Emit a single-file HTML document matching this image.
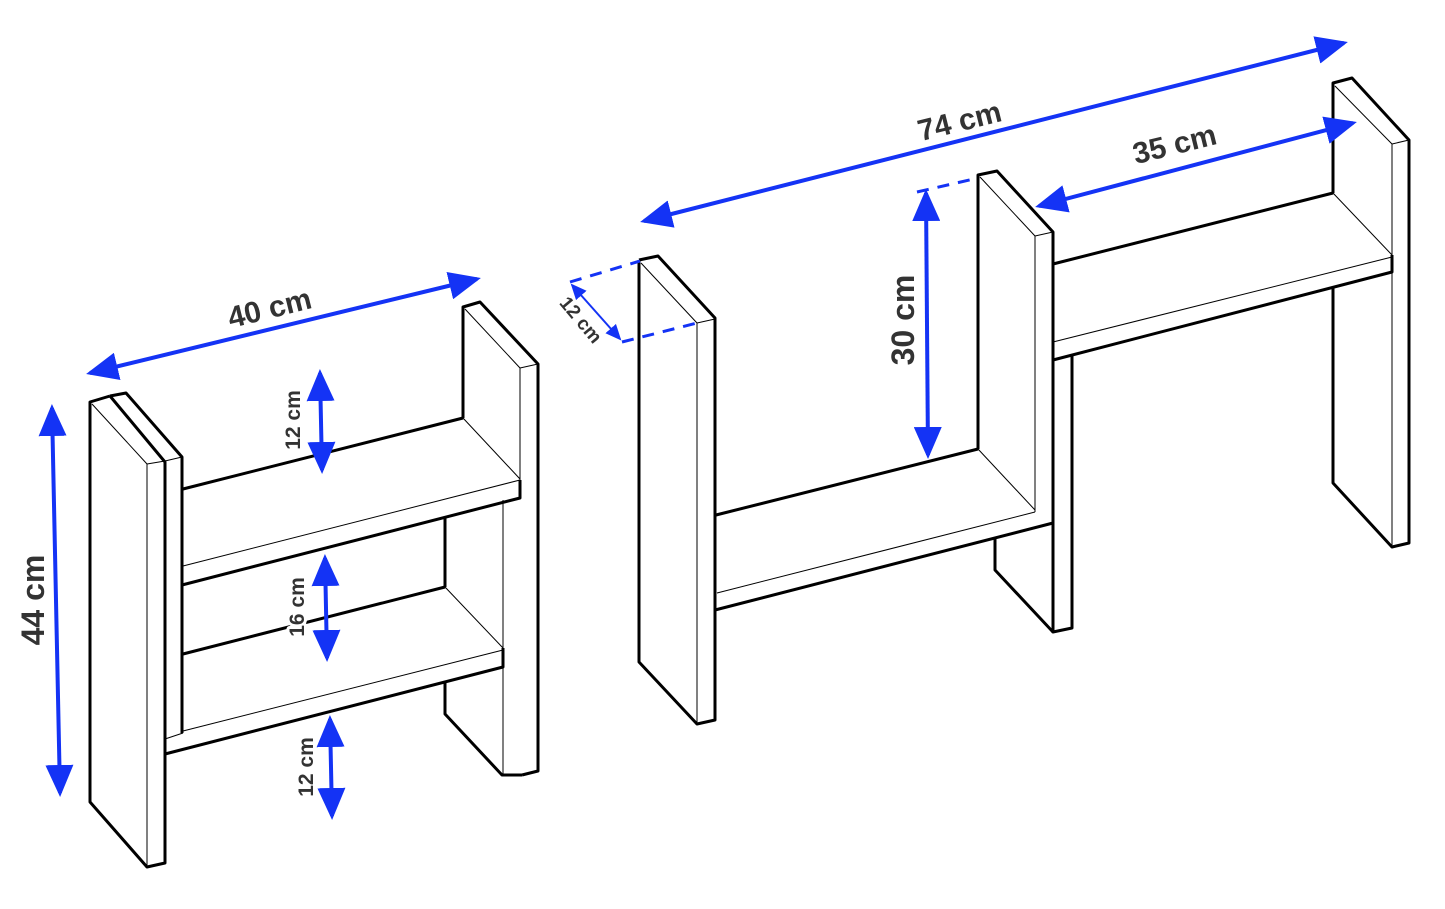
<!DOCTYPE html>
<html><head><meta charset="utf-8"><style>
html,body{margin:0;padding:0;background:#fff;width:1445px;height:909px;overflow:hidden}
svg{display:block}
text{font-family:"Liberation Sans",sans-serif;font-weight:bold;fill:#333}
text.w{stroke:#fff;stroke-width:6px;paint-order:stroke;stroke-linejoin:round}
</style></head><body>
<svg width="1445" height="909" viewBox="0 0 1445 909" xmlns="http://www.w3.org/2000/svg">
<defs>
<marker id="ah" markerWidth="8" markerHeight="7" refX="7" refY="3.5" orient="auto-start-reverse" markerUnits="strokeWidth">
<path d="M0,0 L8,3.5 L0,7 z" fill="#1433f5"/></marker>
</defs>
<g fill="none" stroke="#000" stroke-linejoin="round">
<g stroke-width="3">
<polyline points="463,418 463,307 480,302 538,364 538,771 522,775"/>
<polyline points="445,517 445,587"/>
<polyline points="445,682 445,714 502,775 522,775"/>
<polyline points="110,396 126,393 182,457 182,733"/>
<polyline points="110,396 90,402 90,802 147,867 165,863 165,462 110,396"/>
<line x1="183" y1="489" x2="463" y2="418"/>
<polyline points="182,585 520,498 520,480"/>
<line x1="183" y1="654" x2="445" y2="587"/>
<polyline points="165,754 503,667 503,648"/>
</g>
<g stroke-width="1">
<line x1="92" y1="404" x2="147" y2="464"/>
<line x1="147" y1="464" x2="165" y2="461"/>
<line x1="147" y1="464" x2="147" y2="867"/>
<line x1="165" y1="461" x2="182" y2="457"/>
<line x1="465" y1="309" x2="520" y2="368"/>
<line x1="520" y1="368" x2="538" y2="364"/>
<line x1="520" y1="368" x2="520" y2="480"/>
<line x1="463" y1="418" x2="520" y2="479"/>
<line x1="183" y1="566" x2="520" y2="480"/>
<line x1="503" y1="500" x2="503" y2="775"/>
<line x1="445" y1="587" x2="503" y2="648"/>
<line x1="183" y1="731" x2="503" y2="650"/>
<line x1="165" y1="739" x2="183" y2="733"/>
</g>
<g stroke-width="3">
<polyline points="639,260 658,256 715,318 715,720 697,724 639,662 639,260"/>
<line x1="716" y1="515" x2="978" y2="449"/>
<polyline points="715,610 1053,523 1053,508"/>
<polyline points="978,449 978,175 997,171 1053,232 1053,632 1072,628 1072,355"/>
<polyline points="995,538 995,570 1053,632"/>
<line x1="1053" y1="264" x2="1333" y2="193"/>
<polyline points="1053,360 1392,272 1392,255"/>
<polyline points="1333,193 1333,83 1352,78 1409,140 1409,543 1392,547 1333,483 1333,288"/>
</g>
<g stroke-width="1">
<line x1="641" y1="263" x2="697" y2="323"/>
<line x1="697" y1="323" x2="715" y2="319"/>
<line x1="697" y1="323" x2="697" y2="724"/>
<line x1="717" y1="593" x2="1035" y2="512"/>
<line x1="978" y1="449" x2="1035" y2="510"/>
<line x1="980" y1="177" x2="1035" y2="236"/>
<line x1="1035" y1="236" x2="1053" y2="232"/>
<line x1="1035" y1="236" x2="1035" y2="512"/>
<line x1="1053" y1="523" x2="1053" y2="632"/>
<line x1="1053" y1="342" x2="1392" y2="257"/>
<line x1="1333" y1="193" x2="1392" y2="255"/>
<line x1="1335" y1="86" x2="1392" y2="144"/>
<line x1="1392" y1="144" x2="1409" y2="140"/>
<line x1="1392" y1="144" x2="1392" y2="547"/>
</g>
</g>
<text class="w" font-size="21" text-anchor="middle" transform="translate(300,420) rotate(-90)">12 cm</text>
<text class="w" font-size="21" text-anchor="middle" transform="translate(304,607) rotate(-90)">16 cm</text>
<text class="w" font-size="21" text-anchor="middle" transform="translate(313,767) rotate(-90)">12 cm</text>
<g stroke="#1433f5" fill="none">
<line x1="90" y1="373" x2="477" y2="279" stroke-width="4" marker-start="url(#ah)" marker-end="url(#ah)"/>
<line x1="52" y1="408" x2="60" y2="793" stroke-width="4" marker-start="url(#ah)" marker-end="url(#ah)"/>
<line x1="320" y1="373" x2="322" y2="470" stroke-width="4" marker-start="url(#ah)" marker-end="url(#ah)"/>
<line x1="325" y1="558" x2="327" y2="658" stroke-width="4" marker-start="url(#ah)" marker-end="url(#ah)"/>
<line x1="330" y1="719" x2="332" y2="816" stroke-width="4" marker-start="url(#ah)" marker-end="url(#ah)"/>
<line x1="644" y1="221" x2="1344" y2="43" stroke-width="4" marker-start="url(#ah)" marker-end="url(#ah)"/>
<line x1="1039" y1="206" x2="1353" y2="123" stroke-width="4" marker-start="url(#ah)" marker-end="url(#ah)"/>
<line x1="926" y1="193" x2="928" y2="455" stroke-width="4" marker-start="url(#ah)" marker-end="url(#ah)"/>
<line x1="572" y1="285" x2="620" y2="339" stroke-width="2" marker-start="url(#ah)" marker-end="url(#ah)"/>
<g stroke-width="3" stroke-dasharray="12,9">
<line x1="570" y1="282" x2="640" y2="261"/>
<line x1="622" y1="342" x2="697" y2="323"/>
<line x1="917" y1="192" x2="978" y2="178"/>
</g>
</g>
<text font-size="30" text-anchor="middle" transform="translate(272,318) rotate(-14)">40 cm</text>
<text font-size="32" text-anchor="middle" transform="translate(44,600) rotate(-90)">44 cm</text>
<text font-size="30" text-anchor="middle" transform="translate(962,131) rotate(-14)">74 cm</text>
<text font-size="30" text-anchor="middle" transform="translate(1177,154) rotate(-14)">35 cm</text>
<text font-size="32" text-anchor="middle" transform="translate(914,320) rotate(-90)">30 cm</text>
<text font-size="19" text-anchor="middle" transform="translate(576,324) rotate(50)">12 cm</text>
</svg>
</body></html>
